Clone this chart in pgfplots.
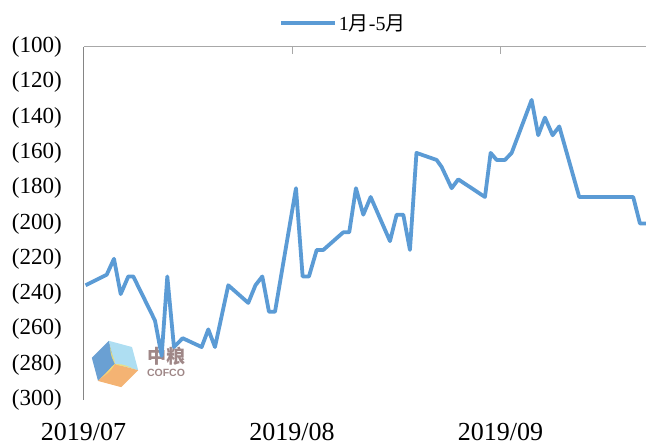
\documentclass[border=0pt]{standalone}
\usepackage{pgfplots}
\pgfplotsset{compat=1.18}
\usepackage{fontspec}
\setmainfont{Liberation Serif}
\newfontfamily\cjk{Noto Sans CJK SC}
\newfontfamily\lsans{Liberation Sans}
\definecolor{lineblue}{HTML}{5B9BD5}
\definecolor{topgrey}{HTML}{A8A8A8}
\definecolor{leftgrey}{HTML}{858585}
\definecolor{logobrown}{HTML}{8E7272}
\begin{document}
\begin{tikzpicture}
\useasboundingbox (-83.6pt,-46pt) rectangle (562.4pt,400pt);
% faint watermark logo
\begin{scope}[shift={(31.4pt,36pt)}, opacity=0.85, rotate=15]
  \fill[color={rgb,255:red,80;green,143;blue,203}] (0,0) -- (90:24pt) -- (150:24pt) -- (210:24pt) -- cycle;
  \fill[color={rgb,255:red,160;green,216;blue,240}] (0,0) -- (330:24pt) -- (30:24pt) -- (90:24pt) -- cycle;
  \fill[color={rgb,255:red,242;green,166;blue,90}] (0,0) -- (210:24pt) -- (270:24pt) -- (330:24pt) -- cycle;
  \fill[color={rgb,255:red,240;green,225;blue,120}] (0,0) .. controls (80:8pt) and (100:8pt) .. (90:20pt) .. controls (110:8pt) and (100:4pt) .. (0,0);
  \fill[color={rgb,255:red,240;green,225;blue,120}] (0,0) .. controls (200:8pt) and (220:8pt) .. (210:20pt) .. controls (230:8pt) and (220:4pt) .. (0,0);
  \fill[color={rgb,255:red,240;green,225;blue,120}] (0,0) .. controls (320:8pt) and (340:8pt) .. (330:20pt) .. controls (350:8pt) and (340:4pt) .. (0,0);
\end{scope}
\node[text=logobrown, opacity=0.85, inner sep=0pt] at (82.4pt,44pt) {\cjk\bfseries\fontsize{19}{19}\selectfont 中粮};
\node[text=logobrown, opacity=0.85, inner sep=0pt] at (82.4pt,27pt) {\lsans\bfseries\fontsize{10.5}{10.5}\selectfont COFCO};
\begin{axis}[
  at={(0pt,0pt)}, anchor=south west,
  scale only axis, width=562.4pt, height=353pt,
  xmin=0, xmax=83.65, ymin=-300, ymax=-100,
  axis x line*=top, axis y line*=left,
  x axis line style={topgrey, line width=1pt, -},
  y axis line style={leftgrey, line width=1pt, -},
  xtick={0,31,62}, xticklabels={2019/07,2019/08,2019/09},
  xtick pos=top,
  x tick style={topgrey, line width=1pt},
  major tick length=7pt, tick align=inside,
  xticklabel style={font=\fontsize{26}{26}\selectfont, anchor=base, yshift=-394pt, inner sep=0pt},
  ytick={-300,-280,-260,-240,-220,-200,-180,-160,-140,-120,-100},
  yticklabels={(300),(280),(260),(240),(220),(200),(180),(160),(140),(120),(100)},
  y tick style={draw=none},
  yticklabel style={font=\fontsize{23}{23}\selectfont, anchor=east, inner sep=0pt, xshift=-21.6pt},
  legend style={at={(0.462,1.068)}, anchor=center, draw=none, fill=none,
    font=\fontsize{20}{20}\selectfont, inner sep=0pt},
  legend image code/.code={\draw[#1] (0pt,0pt) -- (54pt,0pt);},
  clip=true,
]
\addplot[lineblue, line width=3.8pt, line join=round] coordinates {
(0.3,-235) (3.44,-229) (4.52,-220) (5.52,-240) (6.65,-230) (7.39,-230)
(10.62,-255) (11.61,-275) (12.45,-230) (13.44,-270) (14.74,-265)
(17.56,-270) (18.55,-260) (19.54,-270) (21.52,-235) (24.49,-245)
(25.56,-235) (26.58,-230) (27.57,-250) (28.47,-250) (31.59,-180)
(32.58,-230) (33.52,-230) (34.67,-215) (35.65,-215) (38.62,-205)
(39.51,-205) (40.51,-180) (41.60,-195) (42.70,-185) (45.57,-210)
(46.56,-195) (47.55,-195) (48.54,-215) (49.51,-160) (52.51,-164)
(53.26,-168) (54.74,-180) (55.73,-175) (59.70,-185) (60.54,-160)
(61.44,-164) (62.67,-164) (63.67,-160) (66.64,-130) (67.62,-150)
(68.62,-140) (69.76,-150) (70.75,-145) (73.72,-185) (81.75,-185)
(82.75,-200) (84.7,-200)
};
\addlegendentry{1{\cjk 月}-5{\cjk 月}}
\end{axis}
\end{tikzpicture}
\end{document}
